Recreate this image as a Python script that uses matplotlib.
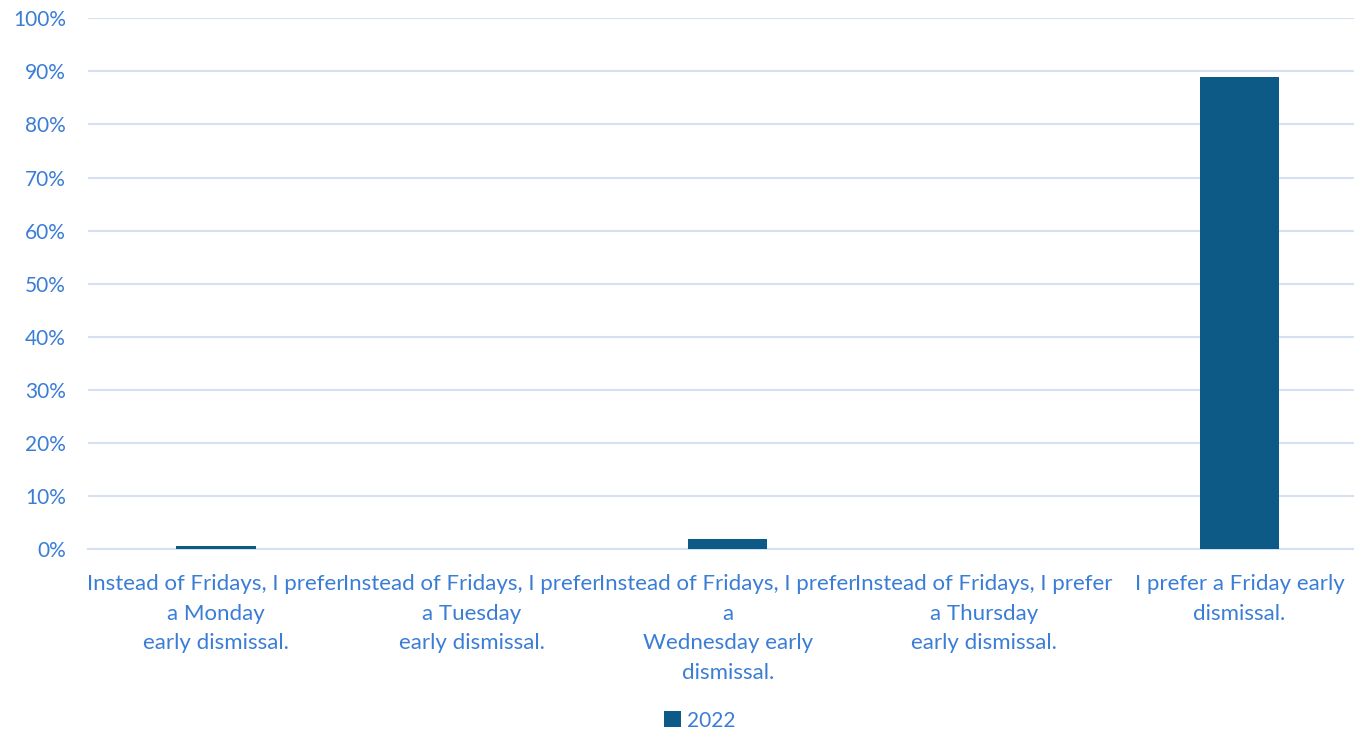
import matplotlib.pyplot as plt
import numpy as np
from matplotlib.ticker import PercentFormatter

## Data
categories = [
    "Instead of Fridays, I prefer\na Monday\nearly dismissal.",
    "Instead of Fridays, I prefer\na Tuesday\nearly dismissal.",
    "Instead of Fridays, I prefer\na\nWednesday early\ndismissal.",
    "Instead of Fridays, I prefer\na Thursday\nearly dismissal.",
    "I prefer a Friday early\ndismissal.",
]
values_2022 = [0.6, 0.0, 1.9, 0.0, 88.9]
series_name = "2022"

## Style
txt_color = '#3A7DD6'
bar_color = '#0E5A87'
grid_color = '#D5E1F2'
plt.rcParams['font.family'] = ['Lato', 'DejaVu Sans']

fig = plt.figure(figsize=(13.54, 7.33), dpi=100)
ax = fig.add_axes([0.065, 0.251, 0.945, 0.724])

x = np.arange(len(categories))
ax.bar(x, values_2022, width=0.31, color=bar_color, label=series_name, zorder=3)

ax.set_xlim(-0.5, len(categories) - 0.5)
ax.set_ylim(0, 100)
ax.set_yticks(np.arange(0, 101, 10))
ax.yaxis.set_major_formatter(PercentFormatter(decimals=0))
ax.set_xticks(x)
ax.set_xticklabels(categories, fontsize=16, color=txt_color, linespacing=1.6)
ax.tick_params(axis='y', labelsize=15, labelcolor=txt_color, length=0, pad=16)
ax.tick_params(axis='x', length=0, pad=18)

ax.grid(axis='y', color=grid_color, linewidth=1.5, zorder=0)
for s in ['top', 'right', 'left']:
    ax.spines[s].set_visible(False)
ax.spines['bottom'].set_color(grid_color)
ax.spines['bottom'].set_linewidth(1.5)

leg = fig.legend(loc='center', bbox_to_anchor=(0.517, 0.017), frameon=False,
                 fontsize=15, handlelength=0.8, handleheight=0.8, handletextpad=0.3)
for t in leg.get_texts():
    t.set_color(txt_color)

fig.savefig('out.png', dpi=100)
